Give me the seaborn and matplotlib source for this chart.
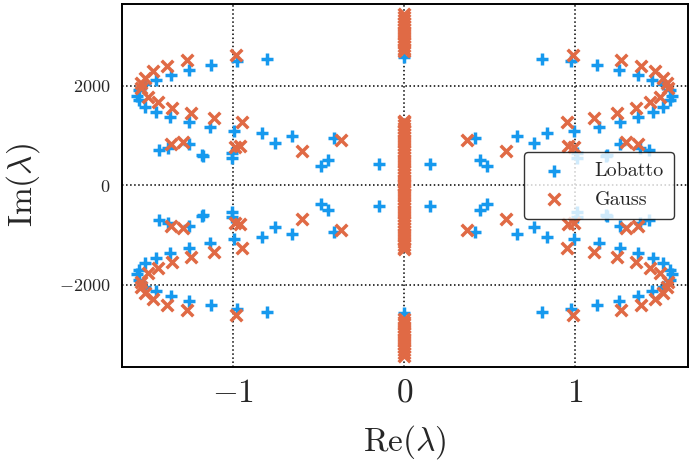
import numpy as np
import pandas as pd
import seaborn as sns
import matplotlib.pyplot as plt

# eigenvalues in one quadrant (|Re|, Im > 0); spectrum is symmetric in Re and Im
lob_re_q = [0.803, 0.978, 1.129, 1.257, 1.364, 1.450, 1.515, 1.553, 1.563, 1.553,
            1.515, 1.452, 1.368, 1.261, 1.138, 0.994, 0.832, 0.758, 0.657, 0.413,
            0.443, 0.485, 0.150, 1.431, 1.378, 1.261, 1.185, 1.178, 1.008, 1.008]
lob_im_q = [2546, 2492, 2412, 2325, 2225, 2124, 2044, 1910, 1789, 1709,
            1574, 1461, 1361, 1260, 1172, 1092, 1039, 850, 985, 945,
            503, 389, 416, 704, 754, 824, 615, 592, 637, 536]
gau_re_q = [0.984, 1.267, 1.384, 1.466, 1.515, 1.538, 1.540, 1.495, 1.437, 1.355,
            1.246, 1.111, 0.949, 0.598, 0.370, 1.364, 1.294, 0.990, 0.960]
gau_im_q = [2613, 2513, 2406, 2298, 2164, 2056, 1944, 1775, 1662, 1548,
            1441, 1347, 1260, 690, 905, 824, 871, 760, 790]

# purely imaginary eigenvalues (Im > 0 half)
lob_axis_im = [2570]
gau_axis_inner = [0, 55, 110, 170, 225, 285, 340, 400, 455, 515, 570, 630, 690,
                  745, 800, 860, 915, 975, 1030, 1090, 1145, 1200, 1260, 1285]
gau_axis_outer = [2690, 2745, 2800, 2860, 2915, 2975, 3030, 3090, 3145, 3205,
                  3260, 3320, 3375, 3440]

xticks = [-1, 0, 1]
xtick_labels = ['$-1$', '$0$', '$1$']
yticks = [-2000, 0, 2000]
ytick_labels = ['$-2000$', '$0$', '$2000$']


def mirror(re_q, im_q, axis_im):
    re_q = np.array(re_q)
    im_q = np.array(im_q)
    axis_im = np.array(axis_im)
    re = np.concatenate([-re_q, re_q, -re_q, re_q, 0 * axis_im, 0 * axis_im])
    im = np.concatenate([im_q, im_q, -im_q, -im_q, axis_im, -axis_im])
    return re, im


lob_re, lob_im = mirror(lob_re_q, lob_im_q, lob_axis_im)
gau_re, gau_im = mirror(gau_re_q, gau_im_q, gau_axis_inner + gau_axis_outer)
lob = pd.DataFrame({'re': lob_re, 'im': lob_im})
gau = pd.DataFrame({'re': gau_re, 'im': gau_im})

sns.set_style('white')
plt.rcParams['font.family'] = ['cmr10', 'DejaVu Serif']
plt.rcParams['mathtext.fontset'] = 'cm'
plt.rcParams['axes.formatter.use_mathtext'] = True

fig = plt.figure(figsize=(6.93, 4.62), dpi=100)
ax = fig.add_axes([0.176, 0.206, 0.817, 0.785])

blue = '#1699ee'
orange = '#e06a45'
sns.scatterplot(data=lob, x='re', y='im', marker='+', s=70, color=blue,
                linewidth=2.5, label='Lobatto', ax=ax, zorder=3)
sns.scatterplot(data=gau, x='re', y='im', marker='x', s=70, color=orange,
                linewidth=2.5, label='Gauss', ax=ax, zorder=4)

ax.set_xlim(-1.65, 1.66)
ax.set_ylim(-3655, 3640)
ax.set_xticks(xticks, xtick_labels, fontsize=24)
ax.set_yticks(yticks, ytick_labels, fontsize=13)
ax.grid(True, color='black', linestyle=':', linewidth=1.1)
ax.set_axisbelow(True)
ax.tick_params(direction='out', length=5, width=1.2, color='black')
for sp in ax.spines.values():
    sp.set_color('black')
    sp.set_linewidth(1.4)
ax.set_xlabel(r'$\mathrm{Re}(\lambda)$', fontsize=24, labelpad=11)
ax.set_ylabel(r'$\mathrm{Im}(\lambda)$', fontsize=24, labelpad=12)

leg = ax.legend(loc='center right', fontsize=14.5, frameon=True, framealpha=0.8,
                edgecolor='black', fancybox=True, borderpad=0.5,
                handletextpad=1.0, borderaxespad=0.7)
leg.get_frame().set_linewidth(1.0)

fig.savefig('out.png', dpi=100)
